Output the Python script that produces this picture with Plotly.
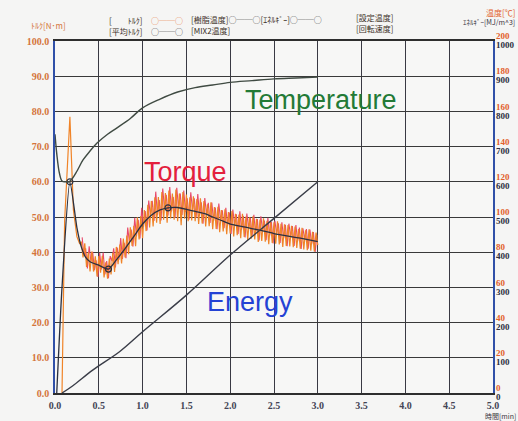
import plotly.graph_objects as go

# ---------------- data ----------------
time_ticks = [0.0, 0.5, 1.0, 1.5, 2.0, 2.5, 3.0, 3.5, 4.0, 4.5, 5.0]
torque_ticks = [0, 10, 20, 30, 40, 50, 60, 70, 80, 90, 100]
temp_ticks = [0, 20, 40, 60, 80, 100, 120, 140, 160, 180, 200]
energy_ticks = [0, 100, 200, 300, 400, 500, 600, 700, 800, 900, 1000]

# raw torque: start-up spike
torque_start_t = [0.08, 0.11, 0.17, 0.19, 0.21, 0.25, 0.28]
torque_start_v = [0, 49, 78.5, 64, 52, 44.4, 42.5]
# raw torque (orange trace): noisy part, sampled every 0.02 min from 0.30 to 3.00
torque_noise_t = [round(0.30 + 0.02 * i, 2) for i in range(136)]
torque_noise_v = [
    43, 38.5, 42.5, 35.8, 40, 34.5, 40.2, 34.5, 38.8, 33.1,
    38.9, 34.2, 39, 32.8, 37.1, 32.5, 38.2, 33.7, 39.8, 34.4,
    41.5, 36.6, 42.2, 36.8, 43.9, 38.5, 44.7, 39.4, 47.1, 41.8,
    47.5, 41.7, 49.9, 43.6, 50.3, 44, 52, 46, 53.5, 47,
    54.5, 47.3, 55.6, 48.4, 55.7, 48, 57.1, 49.2, 56.8, 48.4,
    57.5, 49.6, 56.7, 49.2, 57.8, 48.8, 56.7, 47.7, 57.1, 49.5,
    56.4, 48.8, 55.6, 49, 55.9, 48.8, 55.1, 48, 55.3, 48.2,
    54.5, 47.3, 53.6, 47.4, 54.2, 46.5, 52.8, 46.6, 52.9, 45.7,
    52, 45.9, 52.2, 45.1, 51.4, 45.3, 51.7, 44.5, 50.9, 44.8,
    50.7, 44, 50.9, 44.3, 50.1, 43.5, 49.9, 43.8, 50.2, 43.6,
    49.5, 42.9, 49.3, 43.2, 49.6, 43, 48.9, 42.3, 48.7, 42.6,
    48.5, 42.4, 48.8, 42.2, 48.1, 41.5, 47.9, 41.8, 47.7, 41.6,
    47.5, 41.4, 47.3, 41.2, 46.6, 41, 46.9, 40.8, 46.2, 40.6,
    46.5, 40.4, 45.8, 40.2, 45.6, 42,
]
torque_t = torque_start_t + torque_noise_t
torque_v = torque_start_v + torque_noise_v

# raw torque (red print layer), sampled every 0.02 min from 0.31 to 2.99
torque_red_t = [round(0.31 + 0.02 * i, 2) for i in range(135)]
torque_red_v = [
    44.2, 39, 41.1, 35.4, 41.7, 37.3, 40.1, 34.9, 37.7, 33,
    39.8, 35.1, 39.9, 33.7, 37.5, 32.6, 38.9, 37.5, 41.1, 35.7,
    41.3, 37.9, 44, 38.1, 42.7, 38.3, 47, 42.7, 46.4, 41.6,
    49.8, 44.5, 49.2, 43.9, 52.6, 47.2, 51.7, 46.2, 54.7, 50.2,
    54.6, 48.9, 57.2, 50.5, 54.8, 49, 58.1, 52.2, 56.3, 50.4,
    58.5, 51.6, 55.7, 49.7, 58.3, 52.7, 56.7, 50.6, 57.5, 51.4,
    55.3, 49.2, 57, 51.9, 55.3, 49.7, 56.5, 50.4, 54.2, 48.1,
    55.4, 50.7, 54, 48.3, 54.1, 48.9, 52.7, 46.5, 53.8, 49.1,
    51.9, 46.8, 52.6, 47.5, 51.3, 45.2, 52.1, 47.9, 50.8, 45.2,
    51.6, 46.4, 50.3, 44.2, 51, 46.9, 49.8, 44.7, 50.6, 45.5,
    49.4, 43.3, 50.2, 46.1, 49, 43.4, 49.8, 44.7, 48.6, 42.5,
    48.9, 45.3, 48.2, 42.6, 48.5, 43.9, 47.8, 41.7, 48.1, 44.5,
    47.4, 41.8, 47.7, 43.1, 47, 40.9, 46.8, 43.7, 46.6, 41,
    46.4, 42.3, 45.7, 40.1, 45,
]

# average torque
avg_t = [0.02, 0.08, 0.17, 0.25, 0.3, 0.35, 0.4, 0.5, 0.61, 0.7, 0.8, 0.9, 1.0,
         1.1, 1.2, 1.29, 1.4, 1.5, 1.6, 1.7, 1.8, 1.9, 2.0, 2.2, 2.5, 2.8, 3.0]
avg_v = [0, 30, 60, 47, 41.5, 38.5, 37.3, 36.3, 35.2, 37.8, 41, 44.5, 48,
         50.5, 52, 52.6, 52.7, 52.2, 51.6, 51, 50, 49, 48, 47, 45.3, 44, 43]
avg_mark_t = [0.17, 0.61, 1.29]
avg_mark_v = [60, 35.2, 52.6]

# resin temperature [°C]
temp_t = [0, 0.02, 0.05, 0.08, 0.12, 0.16, 0.2, 0.25, 0.32, 0.4, 0.48, 0.6, 0.7,
          0.86, 1.0, 1.2, 1.4, 1.6, 1.8, 2.0, 2.25, 2.5, 2.75, 3.0]
temp_v = [147, 136, 125, 120.5, 120, 120, 122, 126, 132.4, 137.5, 142, 147, 150.4,
          156, 162, 167, 171, 173.5, 175, 176.5, 177.5, 178.5, 179, 179.5]

# energy [MJ/m^3]
energy_t = [0.08, 0.2, 0.43, 0.74, 1.0, 1.5, 2.0, 2.5, 3.0]
energy_v = [0, 20, 65, 118, 174, 278, 392, 496, 600]

# ---------------- figure ----------------
W, H = 518, 421
L, R, T, B = 55, 25, 41, 28
PW, PH = W - L - R, H - T - B


def px(x):
    return (x - L) / PW


def py(y):
    return (H - B - y) / PH


tick_font = dict(family="Liberation Serif", size=10)
jp = "Noto Sans CJK JP"

fig = go.Figure()

fig.add_trace(go.Scatter(x=temp_t, y=temp_v, yaxis="y2", mode="lines",
                         line=dict(color="#3f4a42", width=1.4, shape="spline"),
                         hoverinfo="skip"))
fig.add_trace(go.Scatter(x=energy_t, y=energy_v, yaxis="y3", mode="lines",
                         line=dict(color="#3a3d48", width=1.4, shape="spline"),
                         hoverinfo="skip"))
fig.add_trace(go.Scatter(x=torque_red_t, y=torque_red_v, mode="lines",
                         line=dict(color="#e8486a", width=1.1),
                         hoverinfo="skip"))
fig.add_trace(go.Scatter(x=torque_t, y=torque_v, mode="lines",
                         line=dict(color="#f08428", width=1.2),
                         hoverinfo="skip"))
fig.add_trace(go.Scatter(x=avg_t, y=avg_v, mode="lines",
                         line=dict(color="#2a3040", width=1.3, shape="spline", smoothing=0.6),
                         hoverinfo="skip"))
fig.add_trace(go.Scatter(x=avg_mark_t, y=avg_mark_v, mode="markers",
                         marker=dict(symbol="circle-open", size=6, color="#2a3040",
                                     line=dict(width=1.2)),
                         hoverinfo="skip"))

fig.update_layout(
    width=W, height=H,
    margin=dict(l=L, r=R, t=T, b=B, pad=0, autoexpand=False),
    paper_bgcolor="#f5f5f4",
    plot_bgcolor="#f7f7f6",
    showlegend=False,
    xaxis=dict(
        range=[0, 5], tickvals=time_ticks,
        ticktext=["<b>%.1f</b>" % v for v in time_ticks],
        tickfont=dict(color="#444455", **tick_font),
        showgrid=True, gridcolor="#3a3a44", gridwidth=1.4,
        showline=True, linecolor="#2e2e2e", linewidth=2, mirror=True,
        ticks="", zeroline=False, ticklabelstandoff=2, automargin=False,
    ),
    yaxis=dict(
        range=[0, 100], tickvals=torque_ticks,
        ticktext=["<b>%.1f</b>" % v for v in torque_ticks],
        tickfont=dict(color="#d4743a", **tick_font),
        showgrid=True, gridcolor="#3a3a3a", gridwidth=1.4,
        showline=True, linecolor="#3050a8", linewidth=1.6, mirror=True,
        ticks="", zeroline=False, ticklabelstandoff=2, automargin=False,
    ),
    yaxis2=dict(
        range=[0, 200], overlaying="y", side="right", tickvals=temp_ticks,
        ticktext=["<b>%d</b>" % v for v in temp_ticks],
        tickfont=dict(color="#e2602c", family="Liberation Serif", size=9),
        showgrid=False, zeroline=False, ticks="", showline=False,
        ticklabelshift=-5, ticklabelstandoff=2, automargin=False,
    ),
    yaxis3=dict(
        range=[0, 1000], overlaying="y", side="right", tickvals=energy_ticks,
        ticktext=["<b>%d</b>" % v for v in energy_ticks],
        tickfont=dict(color="#2e3040", family="Liberation Serif", size=9),
        showgrid=False, zeroline=False, ticks="", showline=False,
        ticklabelshift=4, ticklabelstandoff=2, automargin=False,
    ),
)


def note(x, y, text, size=9, color="#3c3028", family=jp, xanchor="center"):
    fig.add_annotation(x=px(x), y=py(y), xref="paper", yref="paper", text=text,
                       showarrow=False, xanchor=xanchor, yanchor="middle",
                       font=dict(size=size, color=color, family=family))


# big labels
note(321, 100, "Temperature", size=27, color="#237a36", family="Liberation Sans")
note(185, 172, "Torque", size=27, color="#e3203c", family="Liberation Sans")
note(250, 302, "Energy", size=27, color="#2442d4", family="Liberation Sans")

# axis titles
note(48, 26, "ﾄﾙｸ[N･m]", size=8, color="#d4743a")
note(517, 12, "温度[℃]", size=8, color="#e2602c", xanchor="right")
note(517, 22, "ｴﾈﾙｷﾞｰ[MJ/m^3]", size=7, color="#3a3440", xanchor="right")
note(518, 416, "時間[min]", size=7, color="#3a3440", xanchor="right")

# legend
OR = "#e8783a"
DK = "#3a3a3a"
note(107, 21, "[　　ﾄﾙｸ]", size=8, xanchor="left")
note(149, 21, '<span style="color:%s">○──○</span>' % OR, size=8, xanchor="left")
note(107, 31, "[平均ﾄﾙｸ]", size=8, xanchor="left")
note(149, 31, '<span style="color:%s">○──○</span>' % DK, size=8, xanchor="left")
note(189, 19, '[樹脂温度]<span style="color:%s">○──○</span>[ｴﾈﾙｷﾞｰ]<span style="color:%s">○──○</span>' % (DK, DK),
     size=8, xanchor="left")
note(189, 30, "[MIX2温度]", size=8, xanchor="left")
note(354, 17, "[設定温度]", size=8, xanchor="left")
note(354, 28, "[回転速度]", size=8, xanchor="left")

fig.write_html(
    "out.html",
    config={"displayModeBar": False},
    post_script="document.body.style.margin='0';document.body.style.overflow='hidden';",
)
